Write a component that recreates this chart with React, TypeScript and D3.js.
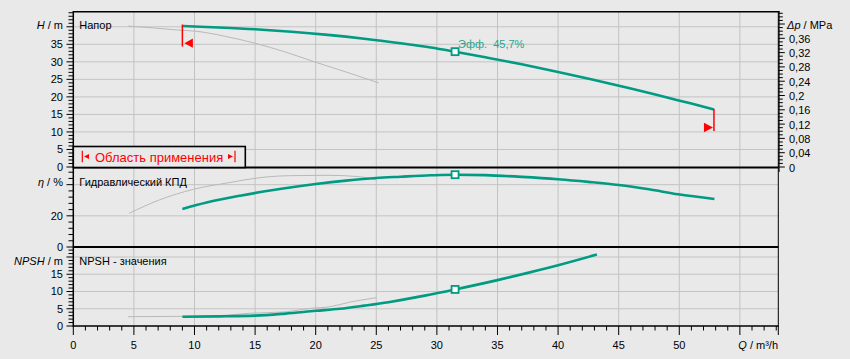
import React from 'react';
import * as d3 from 'd3';

// ---- data ----
const headQ = [9, 12, 15, 18, 21, 24, 27, 29.5, 31.5, 34, 37, 40, 43, 46, 49, 51, 52.86];
const headH = [40.2, 39.8, 39.3, 38.6, 37.7, 36.6, 35.3, 34.1, 32.9, 31.3, 29.3, 27.1, 24.8, 22.4, 19.8, 18.1, 16.4];

const headRefQ = [4.5, 6.5, 8.5, 10.2, 12.5, 15, 17.5, 19.9, 22.5, 25.2];
const headRefH = [40.2, 39.7, 39.1, 38.7, 37.3, 35.3, 32.8, 30.0, 27.1, 24.0];

const effQ = [9, 11, 13.75, 16.5, 20, 22.5, 25, 27, 29.5, 31.5, 34, 37, 40, 42.5, 45, 47.5, 49.9, 52.9];
const effV = [24.4, 28.5, 32.9, 36.6, 40.4, 42.6, 44.3, 45.1, 46.0, 46.4, 46.1, 45.0, 43.5, 41.8, 39.8, 37.0, 33.8, 30.8];

const effRefQ = [4.6, 7.1, 9.9, 13, 14.5, 16, 18, 21, 23.5, 25];
const effRefV = [21.6, 30.2, 37.0, 41.5, 43.5, 45.0, 45.8, 46.0, 45.2, 43.0];

const npshQ = [9, 12, 15, 17.5, 20, 22, 24, 26, 27, 29, 31.5, 35, 37.5, 40, 43.2];
const npshV = [2.7, 2.8, 3.0, 3.6, 4.4, 5.0, 5.9, 6.9, 7.5, 8.8, 10.6, 13.3, 15.4, 17.6, 20.7];

const npshRefQ = [4.5, 9, 12, 14.6, 17.5, 19.5, 21.2, 22.8, 25];
const npshRefV = [2.7, 2.8, 3.0, 3.7, 4.1, 5.1, 5.6, 6.9, 8.2];

const dutyQ = 31.5;
const dutyH = 32.9;
const dutyEta = 46.4;
const dutyNpsh = 10.6;
const effLabel = 'Эфф.  45,7%';

const qMin = 9;
const qMax = 52.86;

const xTickLabels = ['0', '5', '10', '15', '20', '25', '30', '35', '40', '45', '50'];
const hTickLabels = ['0', '5', '10', '15', '20', '25', '30', '35'];
const dpTickLabels = ['0', '0,04', '0,08', '0,12', '0,16', '0,2', '0,24', '0,28', '0,32', '0,36'];
const etaTickLabels = ['0', '20'];
const npshTickLabels = ['0', '5', '10', '15'];

const TEAL = '#009b82';
const GRID = '#c3c3c3';
const REFG = '#b9b9b9';
const RED = '#ff0000';
const FONT = '"Liberation Sans", Arial, sans-serif';

export default function App() {
  const x = d3.scaleLinear().domain([0, 58.17]).range([73.3, 778.3]);
  const yH = d3.scaleLinear().domain([0, 44.3]).range([167, 11.7]);
  const yDp = d3.scaleLinear().domain([0, 44.3 / 101.97]).range([167, 11.7]);
  const yE = d3.scaleLinear().domain([0, 50.5]).range([247, 168.3]);
  const yN = d3.scaleLinear().domain([0, 22.9]).range([326, 247]);

  const L = 73.3, R = 778.3;

  const mk = (qs: number[], vs: number[], ys: d3.ScaleLinear<number, number>) =>
    d3.line<number>().x((d) => x(qs[d])).y((d) => ys(vs[d])).curve(d3.curveMonotoneX)(qs.map((_, i) => i)) || '';

  const vGrid = d3.range(5, 56, 5);
  const hGridH = d3.range(5, 41, 5);
  const hGridE = [20, 40];
  const hGridN = [5, 10, 15, 20];

  const leftTicks: { y: number; major: boolean }[] = [];
  d3.range(0, 45, 1).forEach((v) => leftTicks.push({ y: yH(v), major: v % 5 === 0 }));
  d3.range(0, 51, 4).forEach((v) => leftTicks.push({ y: yE(v), major: v % 20 === 0 }));
  d3.range(0, 23, 1).forEach((v) => leftTicks.push({ y: yN(v), major: v % 5 === 0 }));

  const rightTicks = d3.range(0, 44).map((i) => ({ y: yDp(i / 100), major: i % 4 === 0 }));
  const xTicks = d3.range(0, 59).map((v) => ({ x: x(v), major: v % 5 === 0 }));

  const fs = 11;

  // red limit markers
  const xa = x(qMin), xb = x(qMax);
  const ya0 = yH(headH[0]) - 1.5, ya1 = ya0 + 22;
  const yb0 = yH(headH[headH.length - 1]) - 0.5, yb1 = yb0 + 22;

  return (
    <div style={{ position: 'absolute', left: 0, top: 0, width: 850, height: 359 }}>
      <svg width={850} height={359} style={{ display: 'block', background: '#e9e9e9' }} fontFamily={FONT}>
        <rect x={0} y={0} width={850} height={359} fill="#e9e9e9" />
        {/* grid */}
        {vGrid.map((q) => (
          <line key={'vg' + q} x1={x(q)} x2={x(q)} y1={11.7} y2={326} stroke={GRID} strokeWidth={1} />
        ))}
        {hGridH.map((v) => (
          <line key={'hg' + v} x1={L} x2={R} y1={yH(v)} y2={yH(v)} stroke={GRID} strokeWidth={1} />
        ))}
        {hGridE.map((v) => (
          <line key={'he' + v} x1={L} x2={R} y1={yE(v)} y2={yE(v)} stroke={GRID} strokeWidth={1} />
        ))}
        {hGridN.map((v) => (
          <line key={'hn' + v} x1={L} x2={R} y1={yN(v)} y2={yN(v)} stroke={GRID} strokeWidth={1} />
        ))}

        {/* reference (grey) curves */}
        <path d={mk(headRefQ, headRefH, yH)} fill="none" stroke={REFG} strokeWidth={1} />
        <path d={mk(effRefQ, effRefV, yE)} fill="none" stroke={REFG} strokeWidth={1} />
        <path d={mk(npshRefQ, npshRefV, yN)} fill="none" stroke={REFG} strokeWidth={1} />

        {/* main curves */}
        <path d={mk(headQ, headH, yH)} fill="none" stroke={TEAL} strokeWidth={2.6} />
        <path d={mk(effQ, effV, yE)} fill="none" stroke={TEAL} strokeWidth={2.6} />
        <path d={mk(npshQ, npshV, yN)} fill="none" stroke={TEAL} strokeWidth={2.6} />

        {/* red limits */}
        <line x1={xa} x2={xa} y1={ya0} y2={ya1} stroke={RED} strokeWidth={1.5} />
        <path d={`M${xa + 2},${ya1 - 3.4} L${xa + 10.5},${ya1 - 8} L${xa + 10.5},${ya1 + 1.2} Z`} fill={RED} />
        <line x1={xb} x2={xb} y1={yb0} y2={yb1} stroke={RED} strokeWidth={1.5} />
        <path d={`M${xb - 1},${yb1 - 3.4} L${xb - 10},${yb1 - 8.2} L${xb - 10},${yb1 + 1.2} Z`} fill={RED} />

        {/* duty point markers */}
        {[yH(dutyH), yE(dutyEta), yN(dutyNpsh)].map((yy, i) => (
          <rect key={'m' + i} x={x(dutyQ) - 3.5} y={yy - 3.5} width={7} height={7} fill="#ffffff" stroke={TEAL} strokeWidth={1.8} />
        ))}
        <text x={458} y={48} fontSize={11} fill="#25a590" style={{ whiteSpace: 'pre' }}>{effLabel}</text>

        {/* frame */}
        <line x1={L} x2={R + 1} y1={11.7} y2={11.7} stroke="#000" strokeWidth={1.5} />
        <line x1={L} x2={R} y1={167.5} y2={167.5} stroke="#000" strokeWidth={2} />
        <line x1={L} x2={R} y1={247} y2={247} stroke="#000" strokeWidth={2} />
        <line x1={L} x2={R} y1={326} y2={326} stroke="#000" strokeWidth={1.5} />
        <line x1={L} x2={L} y1={11} y2={327} stroke="#000" strokeWidth={1.5} />
        <line x1={R} x2={R} y1={11} y2={327} stroke="#000" strokeWidth={1} />
        <line x1={R + 0.8} x2={R + 0.8} y1={11} y2={172} stroke="#000" strokeWidth={1} />

        {/* legend box */}
        <rect x={L} y={146.5} width={172} height={21} fill="#e9e9e9" stroke="#000" strokeWidth={1.6} />
        <line x1={82.3} x2={82.3} y1={150.7} y2={162.3} stroke={RED} strokeWidth={1.2} />
        <path d="M84,156.5 L89,154 L89,159 Z" fill={RED} />
        <text x={95} y={161.5} fontSize={13} fill={RED}>Область применения</text>
        <path d="M233,156.5 L228,154 L228,159 Z" fill={RED} />
        <line x1={235} x2={235} y1={150.7} y2={162.3} stroke={RED} strokeWidth={1.2} />

        {/* left ticks */}
        {leftTicks.map((t, i) => (
          <line key={'lt' + i} x1={t.major ? 66.5 : 68.5} x2={L} y1={t.y} y2={t.y} stroke="#000" strokeWidth={1} />
        ))}
        {/* right ticks */}
        {rightTicks.map((t, i) => (
          <line key={'rt' + i} x1={R} x2={t.major ? R + 6.5 : R + 4.5} y1={t.y} y2={t.y} stroke="#000" strokeWidth={1} />
        ))}
        {/* x ticks */}
        {xTicks.map((t, i) => (
          <line key={'xt' + i} x1={t.x} x2={t.x} y1={326} y2={t.major ? 335 : 330.5} stroke="#000" strokeWidth={1} />
        ))}
        <line x1={R} x2={R} y1={326} y2={335} stroke="#000" strokeWidth={1} />

        {/* tick labels */}
        {hTickLabels.map((s, i) => (
          <text key={'hl' + i} x={63} y={yH(+s)} dy="0.35em" textAnchor="end" fontSize={fs}>{s}</text>
        ))}
        {etaTickLabels.map((s, i) => (
          <text key={'el' + i} x={63} y={yE(+s)} dy="0.35em" textAnchor="end" fontSize={fs}>{s}</text>
        ))}
        {npshTickLabels.map((s, i) => (
          <text key={'nl' + i} x={63} y={yN(+s)} dy="0.35em" textAnchor="end" fontSize={fs}>{s}</text>
        ))}
        {dpTickLabels.map((s, i) => (
          <text key={'dl' + i} x={789} y={yDp(+s.replace(',', '.')) + 0.7} dy="0.35em" fontSize={fs}>{s}</text>
        ))}
        {xTickLabels.map((s, i) => (
          <text key={'xl' + i} x={x(+s)} y={348.5} textAnchor="middle" fontSize={fs}>{s}</text>
        ))}

        {/* axis titles */}
        <text x={63} y={29} textAnchor="end" fontSize={fs}><tspan fontStyle="italic">H</tspan> / m</text>
        <text x={63} y={185.5} textAnchor="end" fontSize={fs}><tspan fontStyle="italic">η</tspan> / %</text>
        <text x={63} y={264.5} textAnchor="end" fontSize={fs}><tspan fontStyle="italic">NPSH</tspan> / m</text>
        <text x={787} y={28.5} fontSize={fs}><tspan fontStyle="italic">Δp</tspan> / MPa</text>
        <text x={778} y={348.5} textAnchor="end" fontSize={fs}><tspan fontStyle="italic">Q</tspan> / m³/h</text>

        {/* panel titles */}
        <text x={79.3} y={29} fontSize={fs}>Напор</text>
        <text x={79.3} y={185.5} fontSize={fs}>Гидравлический КПД</text>
        <text x={79.3} y={264.5} fontSize={fs}>NPSH - значения</text>
      </svg>
    </div>
  );
}
